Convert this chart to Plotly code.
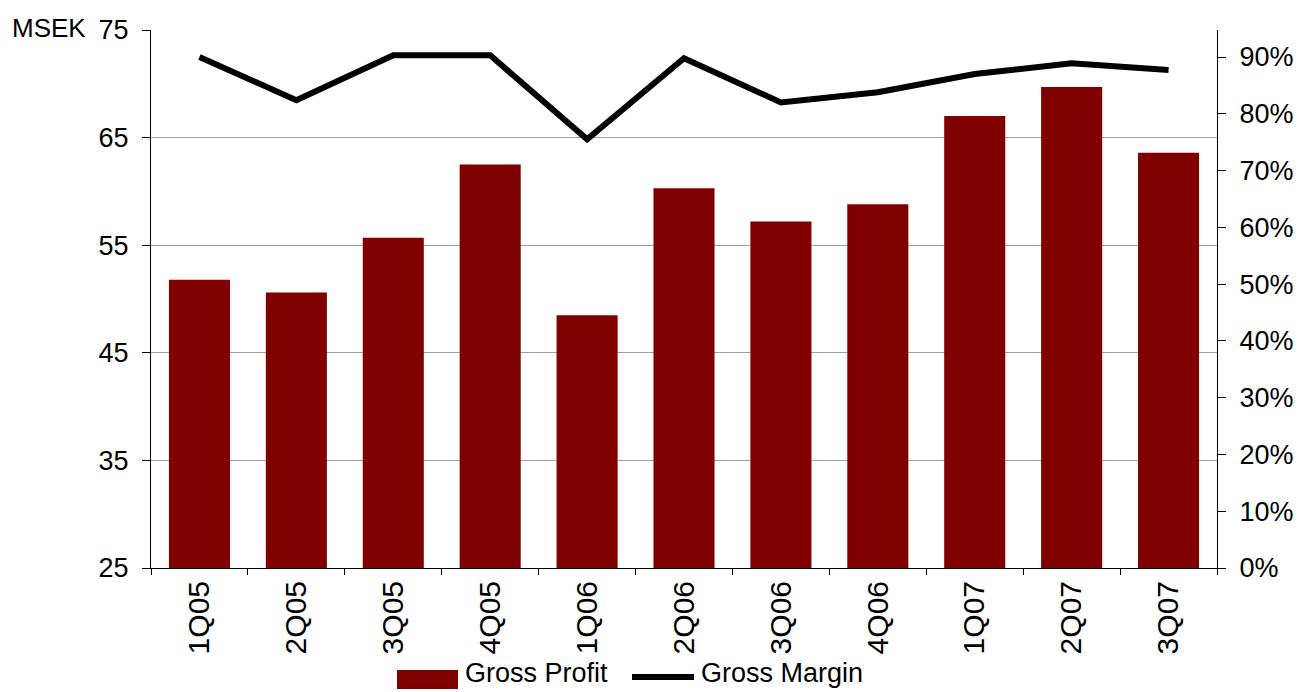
import plotly.graph_objects as go

quarters = ["1Q05", "2Q05", "3Q05", "4Q05", "1Q06", "2Q06", "3Q06", "4Q06", "1Q07", "2Q07", "3Q07"]
gross_profit = [51.8, 50.6, 55.7, 62.5, 48.5, 60.3, 57.2, 58.8, 67.0, 69.7, 63.6]
gross_margin = [0.900, 0.824, 0.903, 0.903, 0.755, 0.898, 0.820, 0.838, 0.870, 0.889, 0.877]
left_ticks = [25, 35, 45, 55, 65, 75]
right_ticks = [0, 0.1, 0.2, 0.3, 0.4, 0.5, 0.6, 0.7, 0.8, 0.9]
series_names = ["Gross Profit", "Gross Margin"]

FONT = "Liberation Sans, Arial, sans-serif"
BAR_COLOR = "#800000"

# plot area in pixels
L, R, T, B = 151, 1217, 30, 568
W, H = 1302, 692


def px_x(x):
    return (x - L) / (R - L)


def px_y(y):
    return (B - y) / (B - T)


fig = go.Figure()
fig.add_trace(go.Bar(x=quarters, y=gross_profit, name=series_names[0],
                     marker=dict(color=BAR_COLOR, line=dict(width=0))))
fig.add_trace(go.Scatter(x=quarters, y=gross_margin, name=series_names[1], yaxis="y2",
                         mode="lines", line=dict(color="black", width=6)))

shapes = [
    dict(type="rect", xref="paper", yref="paper", x0=px_x(397), x1=px_x(458),
         y0=px_y(689), y1=px_y(670), fillcolor=BAR_COLOR, line=dict(width=0)),
    dict(type="line", xref="paper", yref="paper", x0=px_x(632), x1=px_x(694),
         y0=px_y(677), y1=px_y(677), line=dict(color="black", width=6)),
]
annotations = [
    dict(text="MSEK", xref="paper", yref="paper", x=px_x(10), y=px_y(28),
         xanchor="left", yanchor="middle", showarrow=False,
         font=dict(size=26, family=FONT)),
    dict(text=series_names[0], xref="paper", yref="paper", x=px_x(464), y=px_y(673),
         xanchor="left", yanchor="middle", showarrow=False, borderpad=0,
         font=dict(size=27, family=FONT)),
    dict(text=series_names[1], xref="paper", yref="paper", x=px_x(700), y=px_y(673),
         xanchor="left", yanchor="middle", showarrow=False, borderpad=0,
         font=dict(size=27, family=FONT)),
]

fig.update_layout(
    width=W, height=H,
    margin=dict(l=L, r=W - R, t=T, b=H - B, autoexpand=False),
    paper_bgcolor="white", plot_bgcolor="white",
    font=dict(family=FONT, size=26, color="black"),
    bargap=0.37,
    showlegend=False,
    xaxis=dict(type="category", showline=True, linecolor="black", linewidth=1,
               ticks="outside", ticklen=6, tickcolor="black", tickson="boundaries",
               tickangle=-90, tickfont=dict(size=30), showgrid=False,
               automargin=False),
    yaxis=dict(range=[25, 75], tickvals=left_ticks, showline=True, linecolor="black",
               linewidth=1, ticks="outside", ticklen=8, tickcolor="black",
               showgrid=True, gridcolor="#a0a0a0", gridwidth=1, zeroline=False,
               tickfont=dict(size=27), ticklabelstandoff=8, automargin=False),
    yaxis2=dict(range=[0, 0.9476], tickvals=right_ticks, tickformat=".0%",
                overlaying="y", side="right", showline=True, linecolor="black",
                linewidth=1, ticks="outside", ticklen=8, tickcolor="black",
                showgrid=False, zeroline=False, tickfont=dict(size=27),
                ticklabelstandoff=8, automargin=False),
    shapes=shapes,
    annotations=annotations,
)

fig.write_html("out.html")
